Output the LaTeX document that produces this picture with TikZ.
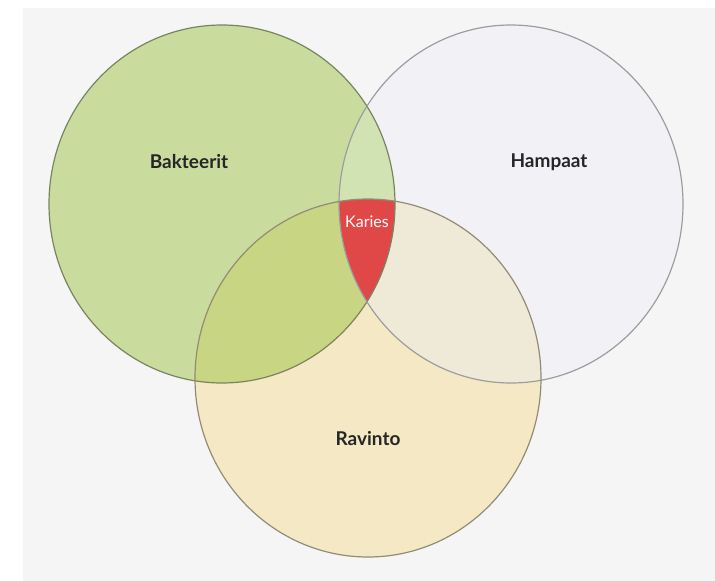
\documentclass[tikz,border=0pt]{standalone}
\usepackage{fontspec}
\setmainfont{Lato}
\usetikzlibrary{positioning}
\usetikzlibrary{calc}

\definecolor{backcol}{HTML}{F5F5F5}
\definecolor{baktcol}{HTML}{C9DC9E}
\definecolor{hampcol}{HTML}{F2F2F6}
\definecolor{ravcol}{HTML}{F4E9C4}
\definecolor{baktravcol}{HTML}{C8D582}
\definecolor{bakthampcol}{HTML}{D2E3B3}
\definecolor{hampravcol}{HTML}{EFE9D7}
\definecolor{kariescol}{HTML}{E04848}

\begin{document}
\begin{tikzpicture}[x=1pt,y=-1pt]
\tikzstyle{setlabel}=[font=\fontsize{19}{22}\selectfont\bfseries,text=black!85]
\tikzstyle{rim}=[line width=1.2pt]
\def\baktset{(222,204) ellipse [x radius=173, y radius=179]}
\def\hampset{(511,204) ellipse [x radius=172, y radius=179]}
\def\ravset{(368,378) ellipse [x radius=173, y radius=179]}
\useasboundingbox (0,0) rectangle (715,581);
\fill[white] (0,0) rectangle (715,581);
\fill[backcol] (23,8) rectangle (715,581);
% sets
\fill[baktcol] \baktset;
\fill[hampcol] \hampset;
\fill[ravcol] \ravset;
% overlaps
\begin{scope}
\clip \baktset;
\fill[bakthampcol] \hampset;
\fill[baktravcol] \ravset;
\end{scope}
\begin{scope}
\clip \hampset;
\fill[hampravcol] \ravset;
\end{scope}
\begin{scope}
\clip \baktset;
\clip \hampset;
\fill[kariescol] \ravset;
\end{scope}
% rims
\draw[rim,draw=black!40!baktcol] \baktset;
\draw[rim,draw=black!35!hampcol] \hampset;
\draw[rim,draw=black!40!ravcol] \ravset;
% labels
\node[setlabel](bakteerit) at (189,162){Bakteerit};
\node[setlabel](hampaat) at (549,162){Hampaat};
\node[setlabel](ravinto) at (368,439){Ravinto};
\node[font=\fontsize{16}{18}\selectfont,text=white](karies) at (367,222){Karies};
\end{tikzpicture}
\end{document}
